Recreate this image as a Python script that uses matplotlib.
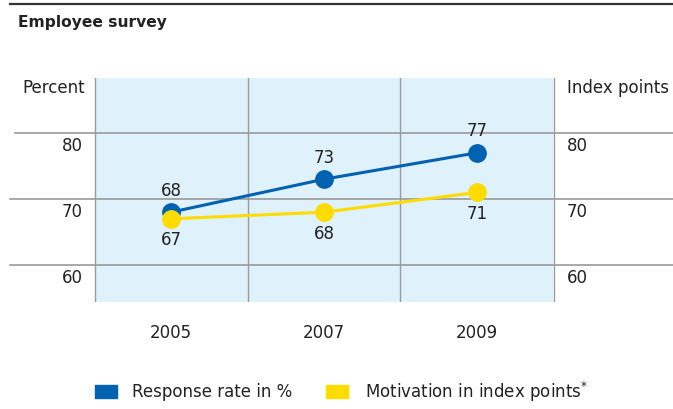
import matplotlib
matplotlib.use("Agg")
import matplotlib.pyplot as plt
from matplotlib.transforms import blended_transform_factory
from matplotlib.patches import Rectangle

plt.rcParams['font.family'] = ['DejaVu Sans']

years = ["2005", "2007", "2009"]
response_rate = [68, 73, 77]
motivation = [67, 68, 71]
y_ticks = [60, 70, 80]

BLUE = "#0062b0"
YELLOW = "#ffdc00"
SHADE = "#dff1fb"
GRID = "#9a9a9a"
TXT = "#222222"

W, H = 673, 409
fig = plt.figure(figsize=(W / 100, H / 100), dpi=100)

def px(x):
    return (x - 171) / 153.0

def fy(y):
    return 1 - y / H

ax = fig.add_axes([0, fy(302), 1, fy(78) - fy(302)])
ax.set_xlim(px(0), px(W))
ax.set_ylim(70 - (302 - 199) / 6.6, 70 + (199 - 78) / 6.6)
ax.axis("off")

n = len(years)
xs = list(range(n))
ax.axvspan(-0.5, n - 0.5, color=SHADE, zorder=0, lw=0)
for v in [i - 0.5 for i in range(n + 1)]:
    ax.axvline(v, color=GRID, lw=1.0, zorder=1)
for t in y_ticks:
    start = 15 if t == max(y_ticks) else 10
    ax.plot([px(start), px(W)], [t, t], color=GRID, lw=1.2, zorder=1, clip_on=False)
    ax.annotate(str(t), (px(83), t), xytext=(0, -3), textcoords="offset points",
                ha="right", va="top", fontsize=12, color=TXT)
    ax.annotate(str(t), (px(567), t), xytext=(0, -3), textcoords="offset points",
                ha="left", va="top", fontsize=12, color=TXT)

ax.plot(xs, response_rate, color=BLUE, lw=2.2, marker="o", ms=12.5, zorder=3)
ax.plot(xs, motivation, color=YELLOW, lw=2.2, marker="o", ms=12.5, zorder=4)
for x, v in zip(xs, response_rate):
    ax.annotate(str(v), (x, v), xytext=(0, 9), textcoords="offset points",
                ha="center", va="bottom", fontsize=12, color=TXT)
for x, v in zip(xs, motivation):
    ax.annotate(str(v), (x, v), xytext=(0, -9), textcoords="offset points",
                ha="center", va="top", fontsize=12, color=TXT)

tr = blended_transform_factory(ax.transData, fig.transFigure)
for x, yr in zip(xs, years):
    ax.text(x, fy(333), yr, transform=tr, ha="center", va="center",
            fontsize=12, color=TXT)

# header elements
fig.add_artist(plt.Line2D([10 / W, 1], [fy(4), fy(4)], color="#333333", lw=1.6))
fig.text(18 / W, fy(22), "Employee survey", ha="left", va="center",
         fontsize=11.2, fontweight="bold", color=TXT)
fig.text(22 / W, fy(88), "Percent", ha="left", va="center", fontsize=12, color=TXT)
fig.text(567 / W, fy(88), "Index points", ha="left", va="center", fontsize=12, color=TXT)

# legend
fig.add_artist(Rectangle((95 / W, fy(398)), 22 / W, 13 / H, color=BLUE,
                         transform=fig.transFigure))
fig.text(132 / W, fy(392), "Response rate in %", ha="left", va="center",
         fontsize=12, color=TXT)
fig.add_artist(Rectangle((326 / W, fy(398)), 22 / W, 13 / H, color=YELLOW,
                         transform=fig.transFigure))
fig.text(365 / W, fy(392), "Motivation in index points$^{*}$", ha="left", va="center",
         fontsize=12, color=TXT)

fig.savefig("out.png", dpi=100)
